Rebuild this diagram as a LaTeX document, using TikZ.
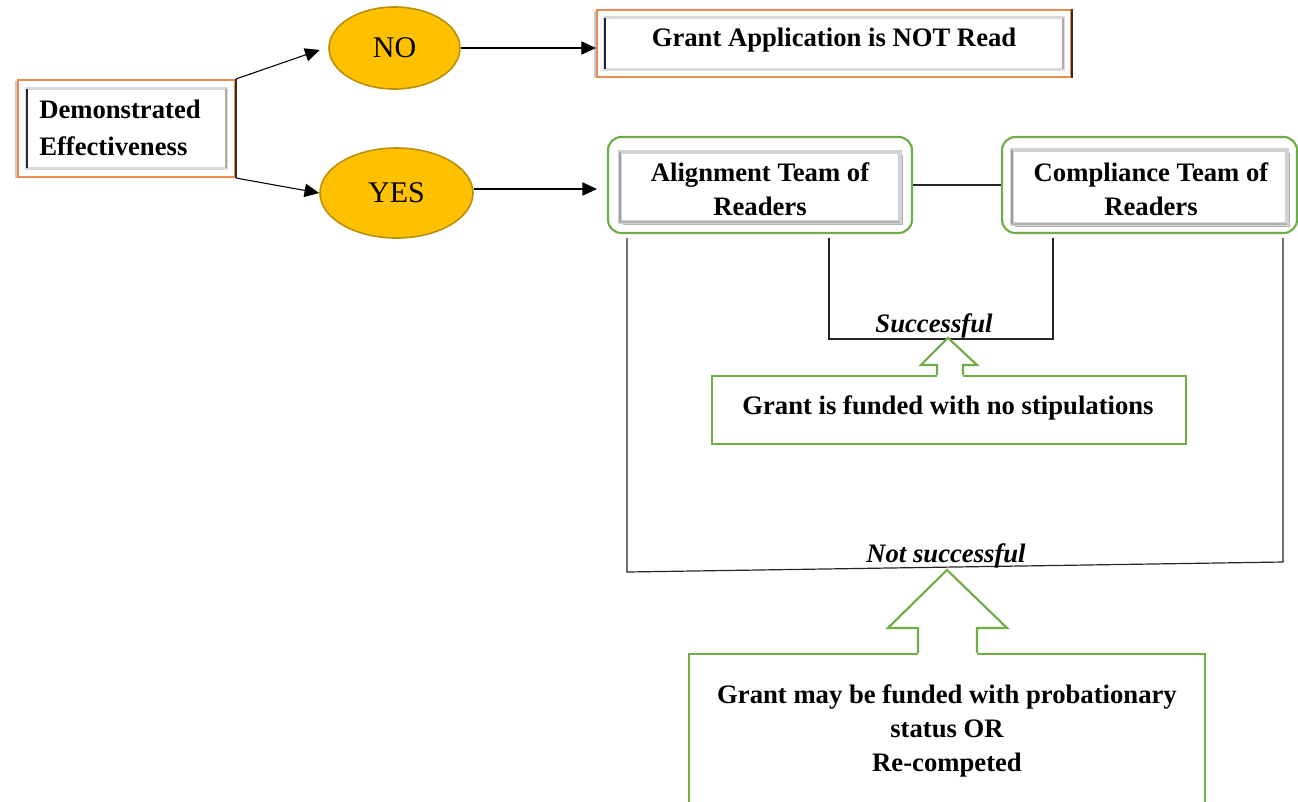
\documentclass[tikz,border=0pt]{standalone}
\usepackage{fontspec}
\setmainfont{Liberation Serif}
\usetikzlibrary{arrows.meta,calc,shadows,shapes.geometric}
\definecolor{org}{HTML}{EB8A4C}
\definecolor{orgdark}{HTML}{3B2A20}
\definecolor{grn}{HTML}{70AD47}
\definecolor{gold}{HTML}{FFC000}
\definecolor{goldedge}{HTML}{B8900A}
\newcommand\orangebevel[2]{%
  \draw[line width=2.2pt, gray!30] ($(#1.north west)+(#2,#2)$) rectangle ($(#1.south east)+(-#2,-#2)$);
  \draw[line width=2pt, black!85] ($(#1.north west)+(#2,#2)$) -- ($(#1.south west)+(#2,-#2)$);
  \draw[line width=2pt, gray!65] ($(#1.north east)+(-#2,#2)$) -- ($(#1.south east)+(-#2,-#2)$);
  \draw[line width=1.6pt, orgdark] (#1.north east) -- (#1.south east);
}
\newcommand\greenbevel[2]{%
  \draw[fill=white, draw=gray!35, line width=2.4pt,
        drop shadow={shadow xshift=2pt, shadow yshift=-2pt, opacity=.6}]
    ($(#1.north west)+(#2,#2+3)$) rectangle ($(#1.south east)+(-#2,-#2+1)$);
  \draw[line width=2pt, gray!75] ($(#1.north west)+(#2,#2+3)$) -- ($(#1.south west)+(#2,-#2+1)$);
  \draw[line width=2pt, gray!60] ($(#1.south west)+(#2,-#2+1)$) -- ($(#1.south east)+(-#2,-#2+1)$);
}
\begin{document}
\begin{tikzpicture}[x=0.75pt,y=-0.75pt,
  obox/.style={rectangle, draw=org, line width=1.6pt, fill=white, inner sep=0pt,
    drop shadow={shadow xshift=-2.5pt, shadow yshift=-1pt, fill=gray!70, opacity=.6}},
  gbox/.style={rectangle, rounded corners=10pt, draw=grn, line width=1.6pt, fill=white, inner sep=0pt},
  pbox/.style={rectangle, draw=grn, line width=1.6pt, fill=white, inner sep=0pt},
  oval/.style={ellipse, draw=goldedge, line width=1.2pt, fill=gold, inner sep=0pt,
    font=\fontsize{22.5}{27}\selectfont},
  txt/.style={font=\fontsize{20}{25.5}\selectfont\bfseries, align=center, inner sep=0pt},
  itxt/.style={font=\fontsize{20}{25}\selectfont\bfseries\itshape, inner sep=0pt},
  arr/.style={draw=black, line width=0.8pt, -{Triangle[length=11pt,width=10pt]}},
  link/.style={draw=black!85, line width=0.9pt},
  gline/.style={draw=grn, line width=1.6pt, line join=miter}
]
\useasboundingbox (0,0) rectangle (1298,801);

% Demonstrated Effectiveness
\node[obox, minimum width=162.75pt, minimum height=72.75pt] (de) at (126.5,128.5) {};
\orangebevel{de}{10}
\node[txt, align=left, anchor=west, font=\fontsize{20}{27.75}\selectfont\bfseries] (detxt) at (39,127.5) {Demonstrated\\Effectiveness};

% NO / YES
\node[oval, minimum width=98.25pt, minimum height=61.5pt] (no) at (394.5,48) {NO};
\node[oval, minimum width=114.75pt, minimum height=67.5pt] (yes) at (396.5,193) {YES};

% Grant Application is NOT Read
\node[obox, minimum width=355.5pt, minimum height=50.25pt] (gr) at (834,43.5) {};
\orangebevel{gr}{9}
\node[txt] (grtxt) at (834,40) {Grant Application is NOT Read};

% Teams
\node[gbox, minimum width=228pt, minimum height=72pt] (al) at (760,185) {};
\greenbevel{al}{13}
\node[txt] (altxt) at (760,189) {Alignment Team of\\Readers};
\node[gbox, minimum width=221.25pt, minimum height=72pt] (co) at (1149.5,185) {};
\greenbevel{co}{11}
\node[txt] (cotxt) at (1151,189) {Compliance Team of\\Readers};
\draw[link] (al.east) -- (co.west);

% arrows
\draw[arr, shorten >=6.75pt] (de.north east) -- ($(no.west)+(0,-1)$);
\draw[arr] (de.south east) -- (yes.west);
\draw[arr] (no.east) -- (no.east -| gr.west);
\coordinate (ye) at ($(yes.east)+(0,-4)$);
\draw[arr, shorten >=7.5pt] (ye) -- (ye -| al.west);

% Successful bracket
\coordinate (s1) at (829,339);
\coordinate (s2) at (1053,339);
\draw[link] ($(al.south -| s1)+(0,4)$) -- (s1) -- (s2) -- ($(co.south -| s2)+(0,4)$);
\node[itxt] (succ) at (934,326) {Successful};

% Not successful bracket
\coordinate (n1) at (627,572);
\coordinate (n2) at (1283,562);
\draw[link] ($(al.south -| n1)+(0,4)$) -- (n1) -- (n2) -- ($(co.south -| n2)+(0,4)$);
\node[itxt] (nsucc) at (946,556) {Not successful};

% funded box + arrow
\node[pbox, minimum width=355.5pt, minimum height=51pt] (fund) at (949,410) {};
\node[txt] (fundtxt) at (948,408) {Grant is funded with no stipulations};
\begin{scope}[shift={(fund.north)}]
  \fill[white] (-12,3) -- (-12,-10) -- (-28,-10) -- (-1,-37) -- (28,-10) -- (14,-10) -- (14,3) -- cycle;
  \draw[gline] (-12,0) -- (-12,-10) -- (-28,-10) -- (-1,-37) -- (28,-10) -- (14,-10) -- (14,0);
\end{scope}

% probationary box + arrow
\node[pbox, minimum width=387pt, minimum height=120.75pt] (prob) at (947,734.5) {};
\node[txt] (probtxt) at (947,731) {Grant may be funded with probationary\\status OR\\Re-competed};
\begin{scope}[shift={(prob.north)}]
  \fill[white] (-29,3) -- (-29,-25) -- (-59,-25) -- (0,-83) -- (60,-25) -- (30,-25) -- (30,3) -- cycle;
  \draw[gline] (-29,0) -- (-29,-25) -- (-59,-25) -- (0,-83) -- (60,-25) -- (30,-25) -- (30,0);
\end{scope}
\end{tikzpicture}
\end{document}
